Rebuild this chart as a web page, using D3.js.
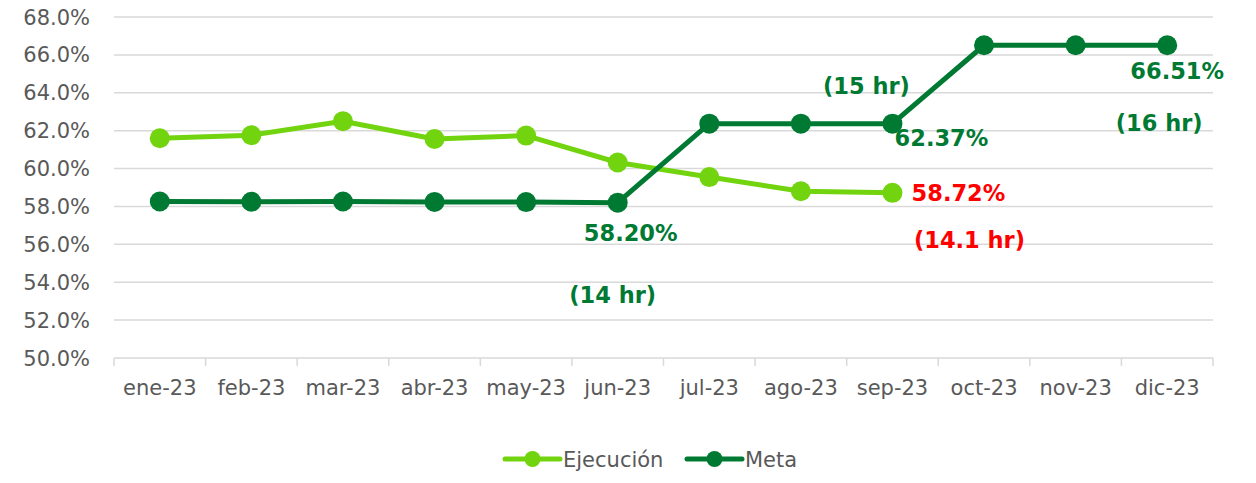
<!DOCTYPE html>
<html>
<head>
<meta charset="utf-8">
<script src="https://cdn.jsdelivr.net/npm/d3@7"></script>
<style>
  body { margin: 0; background: #fff; }
  svg { display: block; font-family: Verdana, "DejaVu Sans", sans-serif; }
</style>
</head>
<body>
<svg id="chart" width="1256" height="483"></svg>
<script>
let months = ["ene-23", "feb-23", "mar-23", "abr-23", "may-23", "jun-23",
    "jul-23", "ago-23", "sep-23", "oct-23", "nov-23", "dic-23"];
let ejecucion = [61.6, 61.76, 62.5, 61.56, 61.74, 60.32, 59.55, 58.8, 58.72];
let meta = [58.26, 58.25, 58.26, 58.24, 58.23, 58.20, 62.37, 62.37, 62.37, 66.51, 66.51, 66.51];
let yTicks = [50, 52, 54, 56, 58, 60, 62, 64, 66, 68];

// labels: [month index, value anchor, text, color, dx, dy]
let dataLabels = [
    [5, 58.20, "58.20%", "#007A33", 13, 38],
    [5, 58.20, "(14 hr)", "#007A33", -5, 100],
    [8, 62.37, "(15 hr)", "#007A33", -26, -30],
    [8, 62.37, "62.37%", "#007A33", 49, 22],
    [8, 58.72, "58.72%", "#FF0000", 66, 8],
    [8, 58.72, "(14.1 hr)", "#FF0000", 77, 55],
    [11, 66.51, "66.51%", "#007A33", 10, 34],
    [11, 66.51, "(16 hr)", "#007A33", -8, 86]
];

let colors = { "Ejecución": "#72D40E", "Meta": "#007A33" };

let svg = d3.select("#chart");
let plotLeft = 114, plotRight = 1213, plotTop = 17, plotBottom = 358;

let xScale = d3.scaleBand()
    .domain(months)
    .range([plotLeft, plotRight]);

let yScale = d3.scaleLinear()
    .domain([50, 68])
    .range([plotBottom, plotTop]);

let xc = function(i) { return xScale(months[i]) + xScale.bandwidth() / 2; };

// gridlines
svg.selectAll(".grid")
    .data(yTicks.slice(1))
    .enter()
    .append("line")
    .attr("x1", plotLeft)
    .attr("x2", plotRight)
    .attr("y1", d => yScale(d))
    .attr("y2", d => yScale(d))
    .attr("stroke", "#D9D9D9")
    .attr("stroke-width", 1.5);

// y labels
svg.selectAll(".ylab")
    .data(yTicks)
    .enter()
    .append("text")
    .attr("x", 90)
    .attr("y", d => yScale(d) + 7.5)
    .attr("text-anchor", "end")
    .attr("fill", "#595959")
    .style("font-size", "21px")
    .text(d => d.toFixed(1) + "%");

// x axis
let xAxis = svg.append("g")
    .attr("transform", "translate(0," + plotBottom + ")")
    .call(d3.axisBottom(xScale).tickSize(0).tickPadding(0));
xAxis.select(".domain").remove();
xAxis.selectAll("text")
    .attr("y", 37)
    .attr("dy", 0)
    .attr("fill", "#595959")
    .style("font-family", "Verdana, 'DejaVu Sans', sans-serif")
    .style("font-size", "21px");

svg.append("line")
    .attr("x1", plotLeft).attr("x2", plotRight)
    .attr("y1", plotBottom).attr("y2", plotBottom)
    .attr("stroke", "#D9D9D9").attr("stroke-width", 1.5);

let edges = months.map(m => xScale(m)).concat([plotRight]);
svg.selectAll(".xtick")
    .data(edges)
    .enter()
    .append("line")
    .attr("x1", d => d).attr("x2", d => d)
    .attr("y1", plotBottom).attr("y2", plotBottom + 8)
    .attr("stroke", "#D9D9D9").attr("stroke-width", 1.5);

// series
function drawSeries(values, color) {
    let line = d3.line()
        .x((d, i) => xc(i))
        .y(d => yScale(d));
    svg.append("path")
        .datum(values)
        .attr("d", line)
        .attr("fill", "none")
        .attr("stroke", color)
        .attr("stroke-width", 5)
        .attr("stroke-linejoin", "round");
    svg.selectAll(null)
        .data(values)
        .enter()
        .append("circle")
        .attr("cx", (d, i) => xc(i))
        .attr("cy", d => yScale(d))
        .attr("r", 10)
        .attr("fill", color);
}
drawSeries(ejecucion, colors["Ejecución"]);
drawSeries(meta, colors["Meta"]);

// data labels
dataLabels.forEach(function(l) {
    svg.append("text")
        .attr("x", xc(l[0]) + l[4])
        .attr("y", yScale(l[1]) + l[5])
        .attr("text-anchor", "middle")
        .attr("fill", l[3])
        .style("font-size", "22.5px")
        .style("font-weight", "bold")
        .text(l[2]);
});

// legend
let legendItems = [
    { name: "Ejecución", x: 505 },
    { name: "Meta", x: 687 }
];
legendItems.forEach(function(item) {
    let g = svg.append("g").attr("transform", "translate(" + item.x + ",459)");
    g.append("line")
        .attr("x1", 0).attr("x2", 55)
        .attr("stroke", colors[item.name])
        .attr("stroke-width", 5)
        .style("stroke-linecap", "round");
    g.append("circle")
        .attr("cx", 27.5)
        .attr("r", 8)
        .attr("fill", colors[item.name]);
    g.append("text")
        .attr("x", 58)
        .attr("y", 8)
        .attr("fill", "#595959")
        .style("font-size", "21px")
        .text(item.name);
});
</script>
</body>
</html>
